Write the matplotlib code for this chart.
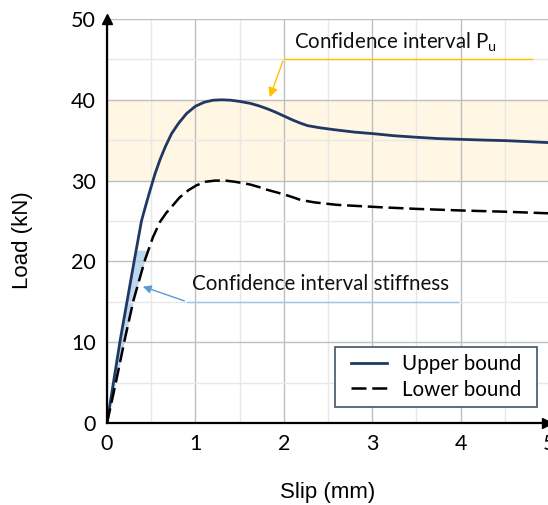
import matplotlib
matplotlib.use("Agg")
import matplotlib.pyplot as plt
from matplotlib.patches import Rectangle
import numpy as np

# Data
upper_slip = [0.0, 0.15, 0.31, 0.39, 0.43, 0.49, 0.545, 0.60, 0.66, 0.73, 0.81, 0.90, 1.00, 1.10, 1.20,
              1.30, 1.40, 1.50, 1.625, 1.72, 1.81, 1.90, 2.00, 2.10, 2.19, 2.27, 2.40, 2.57, 2.80, 3.02,
              3.25, 3.52, 3.75, 4.02, 4.25, 4.50, 4.75, 5.00]
upper_load = [0.0, 10.3, 20.2, 25.0, 26.6, 28.9, 30.9, 32.6, 34.2, 35.8, 37.1, 38.3, 39.2, 39.7, 39.95,
              40.0, 39.95, 39.8, 39.55, 39.25, 38.9, 38.5, 38.0, 37.5, 37.1, 36.8, 36.55, 36.3, 36.0, 35.8,
              35.55, 35.35, 35.2, 35.1, 35.02, 34.95, 34.83, 34.7]

lower_slip = [0.0, 0.10, 0.20, 0.30, 0.43, 0.52, 0.60, 0.67, 0.735, 0.82, 0.92, 1.01, 1.11, 1.22, 1.34,
              1.45, 1.53, 1.625, 1.72, 1.80, 1.90, 2.00, 2.10, 2.19, 2.35, 2.60, 2.85, 3.10, 3.50, 4.01,
              4.50, 5.00]
lower_load = [0.0, 5.0, 10.3, 15.2, 20.2, 23.0, 24.9, 26.0, 26.8, 27.9, 28.8, 29.4, 29.85, 30.0, 30.0,
              29.85, 29.7, 29.5, 29.2, 28.9, 28.6, 28.3, 27.95, 27.6, 27.3, 27.0, 26.85, 26.7, 26.5, 26.3,
              26.15, 25.95]

pu_band = [30, 40]
stiff_top = 21.4

x_ticks = [0, 1, 2, 3, 4, 5]
y_ticks = [0, 10, 20, 30, 40, 50]

W, H = 548, 505
fig = plt.figure(figsize=(W / 100, H / 100), dpi=100)
x0, x5 = 107, 549
y0, y50 = 423, 19
ax = fig.add_axes([x0 / W, (H - y0) / H, (x5 - x0) / W, (y0 - y50) / H])
ax.set_xlim(0, 5)
ax.set_ylim(0, 50)

tick_font = "Lato"
ax.set_xticks(x_ticks)
ax.set_yticks(y_ticks)
ax.set_xticks(np.arange(0.5, 5, 1.0), minor=True)
ax.set_yticks(np.arange(5, 50, 10), minor=True)
ax.grid(which="major", color="#BFBFBF", lw=1.0, zorder=0)
ax.grid(which="minor", color="#E8E8E8", lw=1.0, zorder=0)
ax.tick_params(which="both", length=0)
ax.tick_params(axis="x", pad=8, labelsize=15.5)
ax.tick_params(axis="y", pad=8, labelsize=15.5)
for lab in ax.get_xticklabels() + ax.get_yticklabels():
    lab.set_fontfamily(tick_font)

ax.axhspan(pu_band[0], pu_band[1], color="#FFF6E3", zorder=0.5, lw=0)

ly = np.linspace(0, stiff_top, 60)
ux = np.interp(ly, upper_load[:4], upper_slip[:4])
lx = np.interp(ly, lower_load[:6], lower_slip[:6])
ax.fill_betweenx(ly, ux, lx, color="#BDD7EE", lw=0, zorder=1)

ax.plot(upper_slip, upper_load, color="#1F3864", lw=2.0, label="Upper bound", zorder=3,
        solid_joinstyle="round")
ax.plot(lower_slip, lower_load, color="black", lw=1.8, dashes=(6, 2.3), label="Lower bound", zorder=3)

for s in ["top", "right"]:
    ax.spines[s].set_visible(False)
for s in ["left", "bottom"]:
    ax.spines[s].set_color("black")
    ax.spines[s].set_linewidth(1.6)
    ax.spines[s].set_zorder(4)
ax.plot([0], [1.0], marker="^", color="black", ms=7, transform=ax.transAxes, clip_on=False, zorder=5)
ax.plot([0.995], [0], marker=">", color="black", ms=7, transform=ax.transAxes, clip_on=False, zorder=5)

ann_font = "Lato"
ax.plot([2.0, 4.81], [45.1, 45.1], color="#FFC000", lw=1.0, zorder=3)
ax.annotate("", xy=(1.83, 40.0), xytext=(2.0, 45.1),
            arrowprops=dict(arrowstyle="-|>", color="#FFC000", lw=1.0, mutation_scale=14), zorder=3)
ax.text(2.11, 46.4, r"Confidence interval P$_\mathregular{u}$", fontsize=14.8, fontfamily=ann_font,
        color="#111111", va="baseline", ha="left", zorder=4)

ax.plot([0.905, 3.97], [15.0, 15.0], color="#9DC3E6", lw=1.0, zorder=3)
ax.annotate("", xy=(0.375, 17.0), xytext=(0.905, 15.0),
            arrowprops=dict(arrowstyle="-|>", color="#5B9BD5", lw=1.0, mutation_scale=12), zorder=3)
ax.text(0.967, 16.4, "Confidence interval stiffness", fontsize=14.8, fontfamily=ann_font,
        color="#111111", va="baseline", ha="left", zorder=4)

# legend box (drawn as its own frame to match the reference's padding)
box = Rectangle((0.516, 0.0396), 0.457, 0.149, transform=ax.transAxes, facecolor="white",
                edgecolor="#44546A", lw=1.2, zorder=5.5)
ax.add_patch(box)
leg = ax.legend(loc="center", bbox_to_anchor=(0.745, 0.114), borderaxespad=0, frameon=False,
                handlelength=1.75, prop=dict(family=ann_font, size=14.8), borderpad=0.3,
                labelspacing=0.25, handletextpad=0.75)
leg.set_zorder(6)

ax.set_xlabel("Slip (mm)", fontsize=16, fontfamily="Liberation Sans", labelpad=20)
ax.set_ylabel("Load (kN)", fontsize=16, fontfamily="Liberation Sans")
ax.yaxis.set_label_coords(-0.167, 0.453)

fig.savefig("out.png", dpi=100)
